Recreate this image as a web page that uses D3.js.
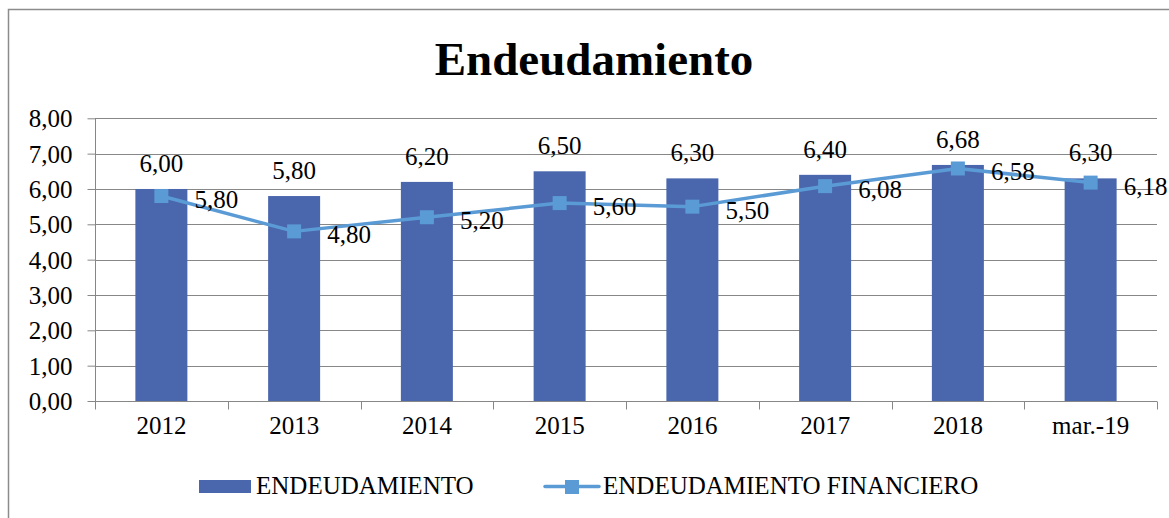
<!DOCTYPE html>
<html><head><meta charset="utf-8">
<script src="https://cdn.jsdelivr.net/npm/d3@7"></script>
<style>body{margin:0;background:#fff}svg{display:block}text{font-family:"Liberation Serif","Times New Roman",serif;fill:#000}</style>
</head><body>
<svg id="c" width="1169" height="518"></svg>
<script>
const categories = ["2012","2013","2014","2015","2016","2017","2018","mar.-19"];
const endeudamiento = [6.00,5.80,6.20,6.50,6.30,6.40,6.68,6.30];
const financiero = [5.80,4.80,5.20,5.60,5.50,6.08,6.58,6.18];
const yTicks = [0,1,2,3,4,5,6,7,8];
const seriesNames = ["ENDEUDAMIENTO","ENDEUDAMIENTO FINANCIERO"];

const svg = d3.select("#c");
const barColor = "#4a66ac", lineColor = "#5b9bd5", gridColor = "#878787";
const m = {l:95, r:1157, t:118.3, b:401};
const fmt = v => v.toFixed(2).replace(".", ",");

// outer border
svg.append("rect").attr("x",8.5).attr("y",9.5).attr("width",1180).attr("height",540)
  .attr("fill","none").attr("stroke","#8c8c8c").attr("stroke-width",1.5);

svg.append("text").attr("x",594).attr("y",75).attr("text-anchor","middle")
  .style("font-size","47px").style("font-weight","bold").text("Endeudamiento");

const x = d3.scaleBand().domain(categories).range([m.l,m.r]);
const y = d3.scaleLinear().domain([0,8]).range([m.b,m.t]);

// gridlines
svg.append("g").selectAll("line").data(yTicks.filter(d=>d>0)).join("line")
  .attr("x1",m.l).attr("x2",m.r).attr("y1",d=>Math.round(y(d))+0.5).attr("y2",d=>Math.round(y(d))+0.5)
  .attr("stroke",gridColor).attr("stroke-width",1);

// y axis
const ya = svg.append("g").attr("transform",`translate(${m.l+0.5},0)`)
  .call(d3.axisLeft(y).tickValues(yTicks).tickFormat(fmt).tickSize(8).tickPadding(15));
ya.select(".domain").attr("stroke",gridColor).attr("d",`M0,${m.t}V${m.b}`);
ya.selectAll(".tick line").attr("stroke",gridColor);
ya.selectAll(".tick text").style("font-size","25px").style("font-family","Liberation Serif").attr("dy","0.34em");

// bars
const bw = 52;
svg.append("g").selectAll("rect").data(endeudamiento).join("rect")
  .attr("x",(d,i)=>x(categories[i])+x.bandwidth()/2-bw/2).attr("width",bw)
  .attr("y",d=>y(d)).attr("height",d=>y(0)-y(d)).attr("fill",barColor);

// x axis
const xa = svg.append("g").attr("transform",`translate(0,${Math.round(m.b)+0.5})`)
  .call(d3.axisBottom(x).tickSize(0).tickPadding(32));
xa.select(".domain").attr("stroke",gridColor).attr("d",`M${m.l},0H${m.r}`);
xa.selectAll(".tick text").style("font-size","25px").style("font-family","Liberation Serif").attr("dy","0");
const bounds = categories.map(c=>x(c)).concat([m.r]);
xa.selectAll("line.b").data(bounds).join("line").attr("class","b")
  .attr("x1",d=>Math.round(d)+0.5).attr("x2",d=>Math.round(d)+0.5).attr("y1",0).attr("y2",8)
  .attr("stroke",gridColor);

// line
const cx = i => x(categories[i]) + x.bandwidth()/2;
svg.append("path").datum(financiero)
  .attr("d",d3.line().x((d,i)=>cx(i)).y(d=>y(d)))
  .attr("fill","none").attr("stroke",lineColor).attr("stroke-width",3.5).attr("stroke-linejoin","round");
svg.append("g").selectAll("rect").data(financiero).join("rect")
  .attr("x",(d,i)=>cx(i)-7).attr("y",d=>y(d)-7).attr("width",14).attr("height",14).attr("fill",lineColor);

// bar labels
svg.append("g").selectAll("text").data(endeudamiento).join("text")
  .attr("x",(d,i)=>cx(i)).attr("y",d=>y(d)-17).attr("text-anchor","middle")
  .style("font-size","25px").text(fmt);
// line labels
svg.append("g").selectAll("text").data(financiero).join("text")
  .attr("x",(d,i)=>cx(i)+33).attr("y",d=>y(d)+12)
  .style("font-size","25px").text(fmt);

// legend
svg.append("rect").attr("x",199).attr("y",480).attr("width",52).attr("height",13).attr("fill",barColor);
svg.append("text").attr("x",256).attr("y",494).style("font-size","25px").text(seriesNames[0]);
svg.append("line").attr("x1",545).attr("x2",599).attr("y1",486.5).attr("y2",486.5)
  .attr("stroke",lineColor).attr("stroke-width",3.5).attr("stroke-linecap","round");
svg.append("rect").attr("x",565).attr("y",480).attr("width",14).attr("height",14).attr("fill",lineColor);
svg.append("text").attr("x",603).attr("y",494).style("font-size","25px").text(seriesNames[1]);
</script>
</body></html>
